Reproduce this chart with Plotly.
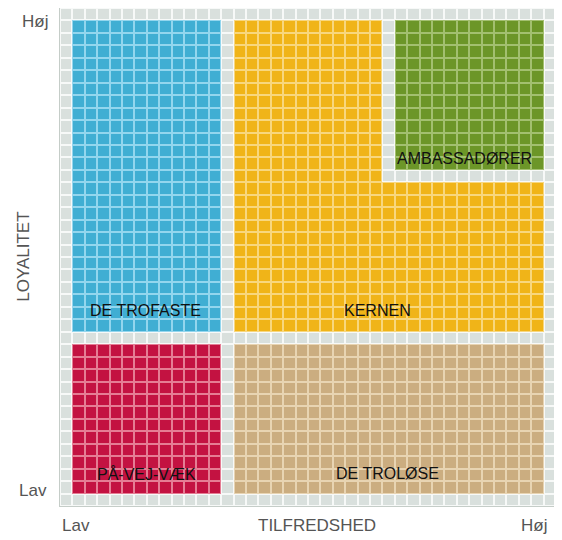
import plotly.graph_objects as go

# Grid size (cells)
n_cols = 40
n_rows = 40

# Segment definitions in grid cells (col/row start inclusive, end exclusive; rows counted from top)
seg_names = ["DE TROFASTE", "KERNEN", "KERNEN", "AMBASSADØRER", "PÅ-VEJ-VÆK", "DE TROLØSE"]
seg_codes = [1, 2, 2, 3, 4, 5]
seg_col0 = [1, 14, 26, 27, 1, 14]
seg_col1 = [13, 26, 39, 39, 13, 39]
seg_row0 = [1, 1, 14, 1, 27, 27]
seg_row1 = [26, 26, 26, 13, 39, 39]

# Label positions in grid coordinates
label_text = ["DE TROFASTE", "KERNEN", "AMBASSADØRER", "PÅ-VEJ-VÆK", "DE TROLØSE"]
label_x = [6.9, 25.6, 32.6, 7.0, 26.4]
label_y = [24.3, 24.3, 12.1, 37.4, 37.4]

# Axis end labels
y_hi, y_lo, y_title = "Høj", "Lav", "LOYALITET"
x_lo, x_title, x_hi = "Lav", "TILFREDSHED", "Høj"

# colours: background, blue, yellow, green, red, tan
fill_colors = ["#d9e0dd", "#40aed3", "#f0b418", "#6c9628", "#c31241", "#cbad80"]
line_colors = ["#f7f9f8", "#93d6ee", "#f8d77e", "#a3c070", "#e57d94", "#e8d4b2"]

z = [[0 for _ in range(n_cols)] for _ in range(n_rows)]
for code, c0, c1, r0, r1 in zip(seg_codes, seg_col0, seg_col1, seg_row0, seg_row1):
    for r in range(r0, r1):
        for c in range(c0, c1):
            z[r][c] = code

def stepped(colors):
    n = len(colors)
    cs = []
    for i, col in enumerate(colors):
        cs.append([i / n, col])
        cs.append([(i + 1) / n, col])
    return cs

xs = [i + 0.5 for i in range(n_cols)]
ys = [i + 0.5 for i in range(n_rows)]

fig = go.Figure()
fig.add_trace(go.Heatmap(z=z, x=xs, y=ys, colorscale=stepped(line_colors), zmin=-0.5, zmax=5.5,
                         showscale=False, hoverinfo="skip"))
fig.add_trace(go.Heatmap(z=z, x=xs, y=ys, colorscale=stepped(fill_colors), zmin=-0.5, zmax=5.5,
                         showscale=False, xgap=2, ygap=2, hoverinfo="skip"))

for t, x, y in zip(label_text, label_x, label_y):
    fig.add_annotation(x=x, y=y, text=t, showarrow=False,
                       font=dict(family="Liberation Sans", size=16, color="#111111"))

axis_font = dict(family="Liberation Sans", size=17, color="#555555")
def paper_text(x, y, text, angle=0):
    fig.add_annotation(xref="paper", yref="paper", x=x, y=y, text=text, textangle=angle,
                       xanchor="center", yanchor="middle", showarrow=False, font=axis_font)

paper_text(-0.050, 0.972, y_hi)
paper_text(-0.054, 0.032, y_lo)
paper_text(-0.075, 0.5, y_title, angle=-90)
paper_text(0.032, -0.040, x_lo)
paper_text(0.518, -0.040, x_title)
paper_text(0.955, -0.040, x_hi)

fig.update_xaxes(range=[0, n_cols], showticklabels=False, showgrid=False, zeroline=False,
                 showline=True, linecolor="#c5cdc8", linewidth=1, mirror=True, ticks="")
fig.update_yaxes(range=[n_rows, 0], showticklabels=False, showgrid=False, zeroline=False,
                 showline=True, linecolor="#c5cdc8", linewidth=1, mirror=True, ticks="")
# the page body adds an 8px offset, so the figure is sized to fit the remaining window
fig.update_layout(width=554, height=532, margin=dict(l=52, r=6, t=0, b=34),
                  paper_bgcolor="white", plot_bgcolor="#f7f9f8", showlegend=False)

fig.write_html("out.html")
